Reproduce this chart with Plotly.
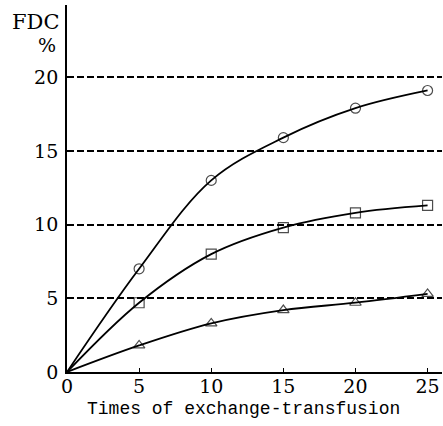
import plotly.graph_objects as go

# Exchange-transfusion count and FDC (%) for three series
times = [0, 5, 10, 15, 20, 25]
fdc_circle = [0, 7.0, 13.0, 15.9, 17.9, 19.1]
fdc_square = [0, 4.7, 8.0, 9.8, 10.8, 11.3]
fdc_triangle = [0, 1.8, 3.3, 4.2, 4.7, 5.3]

x_ticks = [0, 5, 10, 15, 20, 25]
y_ticks = [0, 5, 10, 15, 20]

SERIF = "'DejaVu Serif', 'Liberation Serif', serif"
MONO = "'Liberation Mono', 'DejaVu Sans Mono', monospace"

fig = go.Figure()

for values, symbol in [(fdc_circle, "circle-open"),
                       (fdc_square, "square-open"),
                       (fdc_triangle, "triangle-up-open")]:
    fig.add_trace(go.Scatter(
        x=times, y=values,
        mode="lines+markers",
        line=dict(color="black", width=1.8, shape="spline", smoothing=1.0),
        marker=dict(symbol=symbol, size=[0] + [10] * (len(times) - 1),
                    color="black", line=dict(width=1.2, color="black")),
        showlegend=False,
        cliponaxis=False,
    ))

L, R, T, B = 67, 1, 5, 54
W, H = 443, 426
plot_w = W - L - R
plot_h = H - T - B


def px_x(px):
    return (px - L) / plot_w


def px_y(py):
    return (H - B - py) / plot_h


fig.update_layout(
    width=W, height=H,
    margin=dict(l=L, r=R, t=T, b=B),
    paper_bgcolor="white", plot_bgcolor="white",
    font=dict(family=SERIF, size=19, color="black"),
    xaxis=dict(
        range=[0, 26.0], tickvals=x_ticks, ticktext=[str(v) for v in x_ticks],
        showline=True, linecolor="black", linewidth=1.8,
        ticks="inside", ticklen=4, tickcolor="black", tickwidth=1,
        showgrid=False, zeroline=False, ticklabelstandoff=-4,
        tickfont=dict(family=SERIF, size=19),
    ),
    yaxis=dict(
        range=[0, 24.9], tickvals=y_ticks, ticktext=[str(v) for v in y_ticks],
        showline=True, linecolor="black", linewidth=1.8,
        ticks="", showgrid=True, gridcolor="black", gridwidth=1.5,
        griddash="7px,3px", zeroline=False, ticklabelstandoff=3,
        tickfont=dict(family=SERIF, size=19),
    ),
    annotations=[
        dict(text="FDC", x=px_x(35), y=px_y(22), xref="paper", yref="paper",
             showarrow=False, font=dict(family=SERIF, size=21),
             xanchor="center", yanchor="middle"),
        dict(text="%", x=px_x(47), y=px_y(45), xref="paper", yref="paper",
             showarrow=False, font=dict(family=SERIF, size=19),
             xanchor="center", yanchor="middle"),
        dict(text="Times of exchange-transfusion", x=px_x(243), y=px_y(409),
             xref="paper", yref="paper", showarrow=False,
             font=dict(family=MONO, size=18),
             xanchor="center", yanchor="middle"),
    ],
)

fig.write_html("out.html")
